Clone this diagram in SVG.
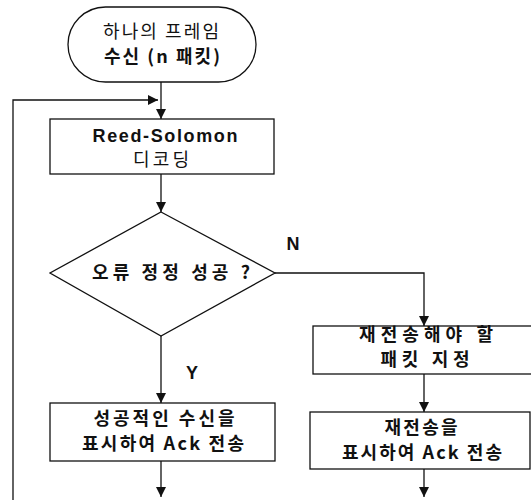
<svg xmlns="http://www.w3.org/2000/svg" width="531" height="500" viewBox="0 0 531 500">
<style>
.shape{fill:#fff;stroke:#111;stroke-width:1.3}
.ln{fill:none;stroke:#111;stroke-width:1.3}
.t{font-family:"Noto Sans CJK KR","Liberation Sans",sans-serif;font-size:18px;fill:#111;text-anchor:middle}
.b{font-weight:bold}
.lat{font-family:"Liberation Sans",Arial,sans-serif;font-weight:bold;font-size:18px;fill:#111;text-anchor:middle}
</style>
<defs>
<marker id="ah" viewBox="0 0 10 10" refX="10" refY="5" markerWidth="10" markerHeight="10" markerUnits="userSpaceOnUse" orient="auto">
<path d="M0,0 L10,5 L0,10 Z" fill="#111"/>
</marker>
</defs>
<rect width="531" height="500" fill="#fff"/>
<g id="connectors">
<line class="ln" x1="161" y1="82" x2="161" y2="119" marker-end="url(#ah)"/>
<polyline class="ln" points="13,500 13,100 158,100" marker-end="url(#ah)"/>
<line class="ln" x1="161" y1="174" x2="161" y2="212" marker-end="url(#ah)"/>
<polyline class="ln" points="275,273 424,273 424,326" marker-end="url(#ah)"/>
<line class="ln" x1="161" y1="336" x2="161" y2="403" marker-end="url(#ah)"/>
<line class="ln" x1="424" y1="374" x2="424" y2="412" marker-end="url(#ah)"/>
<line class="ln" x1="161" y1="461" x2="161" y2="497" marker-end="url(#ah)"/>
<line class="ln" x1="424" y1="469" x2="424" y2="497" marker-end="url(#ah)"/>
<text class="lat" x="293" y="250">N</text>
<text class="lat" x="192" y="379">Y</text>
</g>
<g id="start">
<rect class="shape" x="68" y="7" width="188" height="75" rx="37.5"/>
<text class="t" x="161" y="38" textLength="116" lengthAdjust="spacing">하나의 프레임</text>
<text class="t b" x="162" y="63" textLength="116" lengthAdjust="spacing">수신 (n 패킷)</text>
</g>
<g id="decode">
<rect class="shape" x="50" y="119" width="224" height="55"/>
<text class="lat" x="165" y="142" font-size="20" textLength="145" lengthAdjust="spacing">Reed-Solomon</text>
<text class="t" x="161" y="166" textLength="56" lengthAdjust="spacing">디코딩</text>
</g>
<g id="decision">
<polygon class="shape" points="161,212 275,273 161,336 50,273"/>
<text class="t b" x="171" y="279" textLength="158" lengthAdjust="spacing">오류 정정 성공 ?</text>
</g>
<g id="mark-packets">
<rect class="shape" x="313" y="326" width="224" height="48"/>
<text class="t b" x="426" y="341" textLength="134" lengthAdjust="spacing">재전송해야 할</text>
<text class="t b" x="425" y="366" textLength="89" lengthAdjust="spacing">패킷 지정</text>
</g>
<g id="ack-success">
<rect class="shape" x="50" y="403" width="225" height="58"/>
<text class="t b" x="164" y="425" textLength="141" lengthAdjust="spacing">성공적인 수신을</text>
<text class="t b" x="163" y="450" textLength="162" lengthAdjust="spacing">표시하여 Ack 전송</text>
</g>
<g id="ack-retransmit">
<rect class="shape" x="310" y="412" width="220" height="57"/>
<text class="t b" x="421" y="434" textLength="73" lengthAdjust="spacing">재전송을</text>
<text class="t b" x="422" y="459" textLength="160" lengthAdjust="spacing">표시하여 Ack 전송</text>
</g>
</svg>
